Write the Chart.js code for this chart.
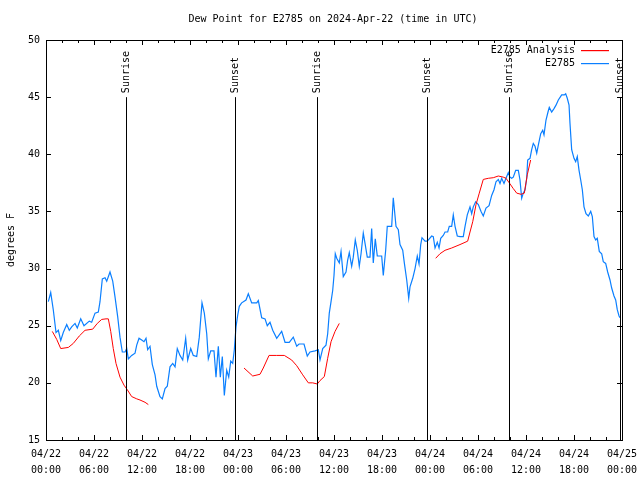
<!DOCTYPE html>
<html><head><meta charset="utf-8">
<script src="https://cdn.jsdelivr.net/npm/chart.js@4/dist/chart.umd.min.js"></script>
<style>html,body{margin:0;padding:0;background:#fff}#wrap{width:640px;height:480px}</style>
</head><body><div id="wrap"><canvas id="c" width="640" height="480"></canvas></div>
<script>
const titleText = 'Dew Point for E2785 on 2024-Apr-22 (time in UTC)';
const yTitle = 'degrees F';
const tickHours = [0,6,12,18,24,30,36,42,48,54,60,66,72];
const tickDates = ['04/22','04/22','04/22','04/22','04/23','04/23','04/23','04/23','04/24','04/24','04/24','04/24','04/25'];
const tickTimes = ['00:00','06:00','12:00','18:00','00:00','06:00','12:00','18:00','00:00','06:00','12:00','18:00','00:00'];
const yTickValues = [15,20,25,30,35,40,45,50];

const obsHours = [0.29,0.59,0.91,1.25,1.54,1.84,2.16,2.59,2.91,3.21,3.63,3.91,4.34,4.75,5.41,5.71,6.13,6.54,6.75,7.04,7.38,7.59,8.0,8.34,8.63,8.96,9.25,9.54,9.88,10.09,10.29,10.71,11.13,11.34,11.63,11.96,12.25,12.5,12.71,13.0,13.29,13.63,13.84,14.25,14.54,14.88,15.16,15.5,15.84,16.13,16.41,16.75,17.09,17.46,17.71,18.09,18.41,18.84,19.16,19.5,19.79,20.09,20.29,20.59,21.0,21.25,21.54,21.79,22.04,22.29,22.59,22.84,23.09,23.34,23.54,23.75,23.96,24.16,24.46,25.0,25.29,25.71,26.34,26.54,26.96,27.38,27.66,28.0,28.34,28.84,29.46,29.88,30.41,30.91,31.34,31.63,32.25,32.66,33.0,33.63,34.04,34.25,34.59,35.0,35.21,35.41,35.63,35.84,36.0,36.16,36.34,36.66,36.88,37.16,37.5,37.71,37.91,38.21,38.41,38.66,38.91,39.16,39.38,39.66,39.88,40.16,40.5,40.71,40.91,41.16,41.41,41.96,42.16,42.46,42.66,43.21,43.41,43.75,44.04,44.25,44.59,44.79,45.09,45.34,45.5,45.84,46.13,46.41,46.63,46.84,47.0,47.38,47.66,47.91,48.21,48.41,48.63,48.91,49.13,49.34,49.66,49.88,50.21,50.41,50.71,50.91,51.13,51.41,51.75,52.16,52.38,52.66,53.0,53.21,53.41,53.71,54.04,54.38,54.66,55.0,55.38,55.71,56.0,56.25,56.54,56.75,56.96,57.25,57.5,57.79,58.0,58.21,58.41,58.71,59.04,59.25,59.46,59.66,59.88,60.09,60.21,60.5,60.71,60.91,61.13,61.34,61.54,61.84,62.09,62.25,62.5,62.75,62.91,63.21,63.5,63.75,64.04,64.46,64.79,64.96,65.16,65.38,65.5,65.71,66.0,66.21,66.41,66.63,66.84,67.04,67.25,67.5,67.79,68.09,68.29,68.5,68.71,68.91,69.16,69.46,69.66,69.96,70.21,70.5,70.71,71.0,71.21,71.41,71.63,71.75];
const obsValues = [27.1,27.9,26.4,24.4,24.6,23.7,24.4,25.1,24.6,24.9,25.2,24.8,25.6,25.0,25.4,25.3,26.1,26.2,27.1,29.1,29.2,28.9,29.7,28.9,27.5,25.8,24.0,22.7,22.7,23.0,22.1,22.4,22.6,23.3,23.9,23.75,23.6,23.9,22.9,23.2,21.6,20.7,19.7,18.8,18.6,19.5,19.7,21.4,21.7,21.4,23.0,22.4,22.0,23.9,22.0,23.0,22.4,22.3,24.0,27.0,26.1,24.3,22.1,22.8,22.8,20.5,23.2,20.5,22.3,18.9,21.1,20.5,21.9,21.7,22.9,24.9,25.9,26.7,27.0,27.25,27.8,27.0,27.0,27.2,25.7,25.6,25.0,25.3,24.6,23.9,24.5,23.55,23.55,24.0,23.2,23.4,23.4,22.35,22.7,22.8,22.9,22.0,23.0,23.3,24.3,26.1,27.1,28.1,29.4,31.3,30.9,30.5,31.5,29.3,29.7,30.75,31.4,30.2,31.0,32.5,31.6,30.2,31.3,33.1,32.2,31.0,31.0,33.5,30.5,32.6,31.1,31.1,29.4,31.6,33.7,33.7,36.2,33.7,33.4,32.1,31.6,30.5,29.0,27.4,28.4,29.15,30.0,31.1,30.4,32.1,32.7,32.4,32.4,32.6,32.85,32.8,31.8,32.3,31.8,32.65,32.9,33.2,33.2,33.7,33.7,34.7,33.7,32.85,32.8,32.8,33.7,34.7,35.4,34.8,35.4,35.85,35.6,35.0,34.6,35.3,35.5,36.4,36.9,37.6,37.8,37.45,37.9,37.45,37.9,38.4,38.0,37.9,38.0,38.6,38.6,37.75,36.15,36.6,36.9,37.9,39.5,39.65,40.4,40.95,40.7,40.1,40.8,41.8,42.1,41.7,43.0,43.7,44.1,43.7,44.0,44.3,44.75,45.2,45.2,45.3,44.9,44.3,42.7,40.4,39.65,39.35,39.8,38.6,37.75,36.9,35.4,34.8,34.6,35.0,34.55,32.8,32.5,32.65,31.5,31.3,30.6,30.45,29.7,29.0,28.3,27.6,27.25,26.4,25.85,25.7];

const anaHours = [0.79,1.34,1.84,2.79,3.41,4.16,4.88,5.84,6.41,6.96,7.5,7.79,8.09,8.41,8.75,9.25,9.75,10.16,10.71,11.34,11.75,12.38,12.79,18.0,
24.75,25.84,26.75,27.16,27.88,28.84,29.79,30.71,31.34,32.09,32.79,33.34,33.91,34.25,34.79,35.21,35.63,36.13,36.66,42.0,
48.71,49.25,49.88,50.71,51.75,52.71,53.0,53.34,53.75,54.16,54.66,55.29,55.91,56.54,57.16,57.5,57.91,58.41,58.84,59.38,59.79,60.16,60.58];
const anaValues = [24.5,23.8,23.0,23.1,23.45,24.1,24.6,24.7,25.2,25.55,25.6,25.6,24.5,23.0,21.7,20.5,19.8,19.4,18.8,18.6,18.5,18.3,18.1,null,
21.3,20.6,20.75,21.3,22.4,22.4,22.4,22.0,21.5,20.7,20.0,20.0,19.9,20.2,20.55,22.15,23.6,24.5,25.2,null,
30.9,31.3,31.6,31.8,32.1,32.4,33.2,34.1,35.6,36.6,37.8,37.9,37.95,38.1,38.0,37.9,37.5,37.0,36.6,36.5,36.6,38.2,39.5];

const sunLabels = ['Sunrise','Sunset','Sunrise','Sunset','Sunrise','Sunset'];
const sunHours = [10.0,23.62,33.88,47.62,57.88,71.75];
const sunLineTop = 45;

const seriesNames = ['E2785 Analysis','E2785'];
const seriesColors = ['#ff0000','#0a7fff'];

const FONT = '10px "DejaVu Sans Mono", "Liberation Mono", monospace';

const overlay = {
  id: 'overlay',
  afterDraw(chart) {
    const ctx = chart.ctx, a = chart.chartArea;
    const xs = chart.scales.x, ys = chart.scales.y;
    ctx.save();
    ctx.strokeStyle = '#000'; ctx.lineWidth = 1;
    ctx.strokeRect(Math.round(a.left)+0.5, Math.round(a.top)+0.5, Math.round(a.right-a.left), Math.round(a.bottom-a.top));
    ctx.beginPath();
    yTickValues.forEach(v => {
      const y = Math.round(ys.getPixelForValue(v))+0.5;
      ctx.moveTo(a.left, y); ctx.lineTo(a.left+5, y);
      ctx.moveTo(a.right, y); ctx.lineTo(a.right-5, y);
    });
    for (let h = 0; h <= 72; h += 2) {
      const x = Math.round(xs.getPixelForValue(h))+0.5;
      const len = (h % 6 === 0) ? 5 : 3;
      ctx.moveTo(x, a.bottom); ctx.lineTo(x, a.bottom-len);
      ctx.moveTo(x, a.top); ctx.lineTo(x, a.top+len);
    }
    ctx.stroke();
    ctx.font = FONT; ctx.fillStyle = '#000';
    sunHours.forEach((h, i) => {
      const x = Math.round(xs.getPixelForValue(h))+0.5;
      const yt = ys.getPixelForValue(sunLineTop);
      ctx.beginPath(); ctx.moveTo(x, yt); ctx.lineTo(x, a.bottom); ctx.stroke();
      ctx.save();
      ctx.translate(x, yt-4); ctx.rotate(-Math.PI/2);
      ctx.textAlign = 'left'; ctx.textBaseline = 'middle';
      ctx.fillText(sunLabels[i], 0, 0);
      ctx.restore();
    });
    ctx.textAlign = 'right'; ctx.textBaseline = 'middle';
    [50, 63].forEach((y, i) => {
      ctx.fillStyle = '#000';
      ctx.fillText(seriesNames[i], 575, y);
      ctx.fillStyle = seriesColors[i];
      ctx.fillRect(581, y, 28, 1.2);
    });
    ctx.fillStyle = '#000'; ctx.textAlign = 'center'; ctx.textBaseline = 'middle';
    ctx.fillText(titleText, 333, 19);
    ctx.save(); ctx.translate(11, 240); ctx.rotate(-Math.PI/2);
    ctx.fillText(yTitle, 0, 0); ctx.restore();
    ctx.restore();
  }
};

new Chart(document.getElementById('c'), {
  type: 'line',
  data: {
    datasets: [
      { label: seriesNames[0], data: anaHours.map((h,i)=>({x:h, y:anaValues[i]})), borderColor: seriesColors[0], borderWidth: 1, pointRadius: 0, spanGaps: false, tension: 0 },
      { label: seriesNames[1], data: obsHours.map((h,i)=>({x:h, y:obsValues[i]})), borderColor: seriesColors[1], borderWidth: 1.2, pointRadius: 0, tension: 0 }
    ]
  },
  options: {
    responsive: false, animation: false, devicePixelRatio: 1,
    layout: { padding: { top: 40, right: 18, left: 0, bottom: 0 } },
    plugins: { legend: { display: false }, title: { display: false }, tooltip: { enabled: false } },
    scales: {
      x: {
        type: 'linear', min: 0, max: 72,
        afterBuildTicks: s => { s.ticks = tickHours.map(v => ({ value: v })); },
        afterFit: s => { s.height = 40; s.paddingLeft = 0; s.paddingRight = 0; },
        grid: { display: false, drawTicks: false }, border: { display: false },
        ticks: { autoSkip: false, maxRotation: 0, padding: 6, color: '#000',
          font: { family: '"DejaVu Sans Mono", "Liberation Mono", monospace', size: 10, lineHeight: 1.6 },
          callback: (v, i) => [tickDates[i], tickTimes[i]] }
      },
      y: {
        min: 15, max: 50,
        afterBuildTicks: s => { s.ticks = yTickValues.map(v => ({ value: v })); },
        afterFit: s => { s.width = 46; s.paddingTop = 0; s.paddingBottom = 0; },
        grid: { display: false, drawTicks: false }, border: { display: false },
        ticks: { padding: 6, color: '#000', font: { family: '"DejaVu Sans Mono", "Liberation Mono", monospace', size: 10 } }
      }
    }
  },
  plugins: [overlay]
});
</script></body></html>
